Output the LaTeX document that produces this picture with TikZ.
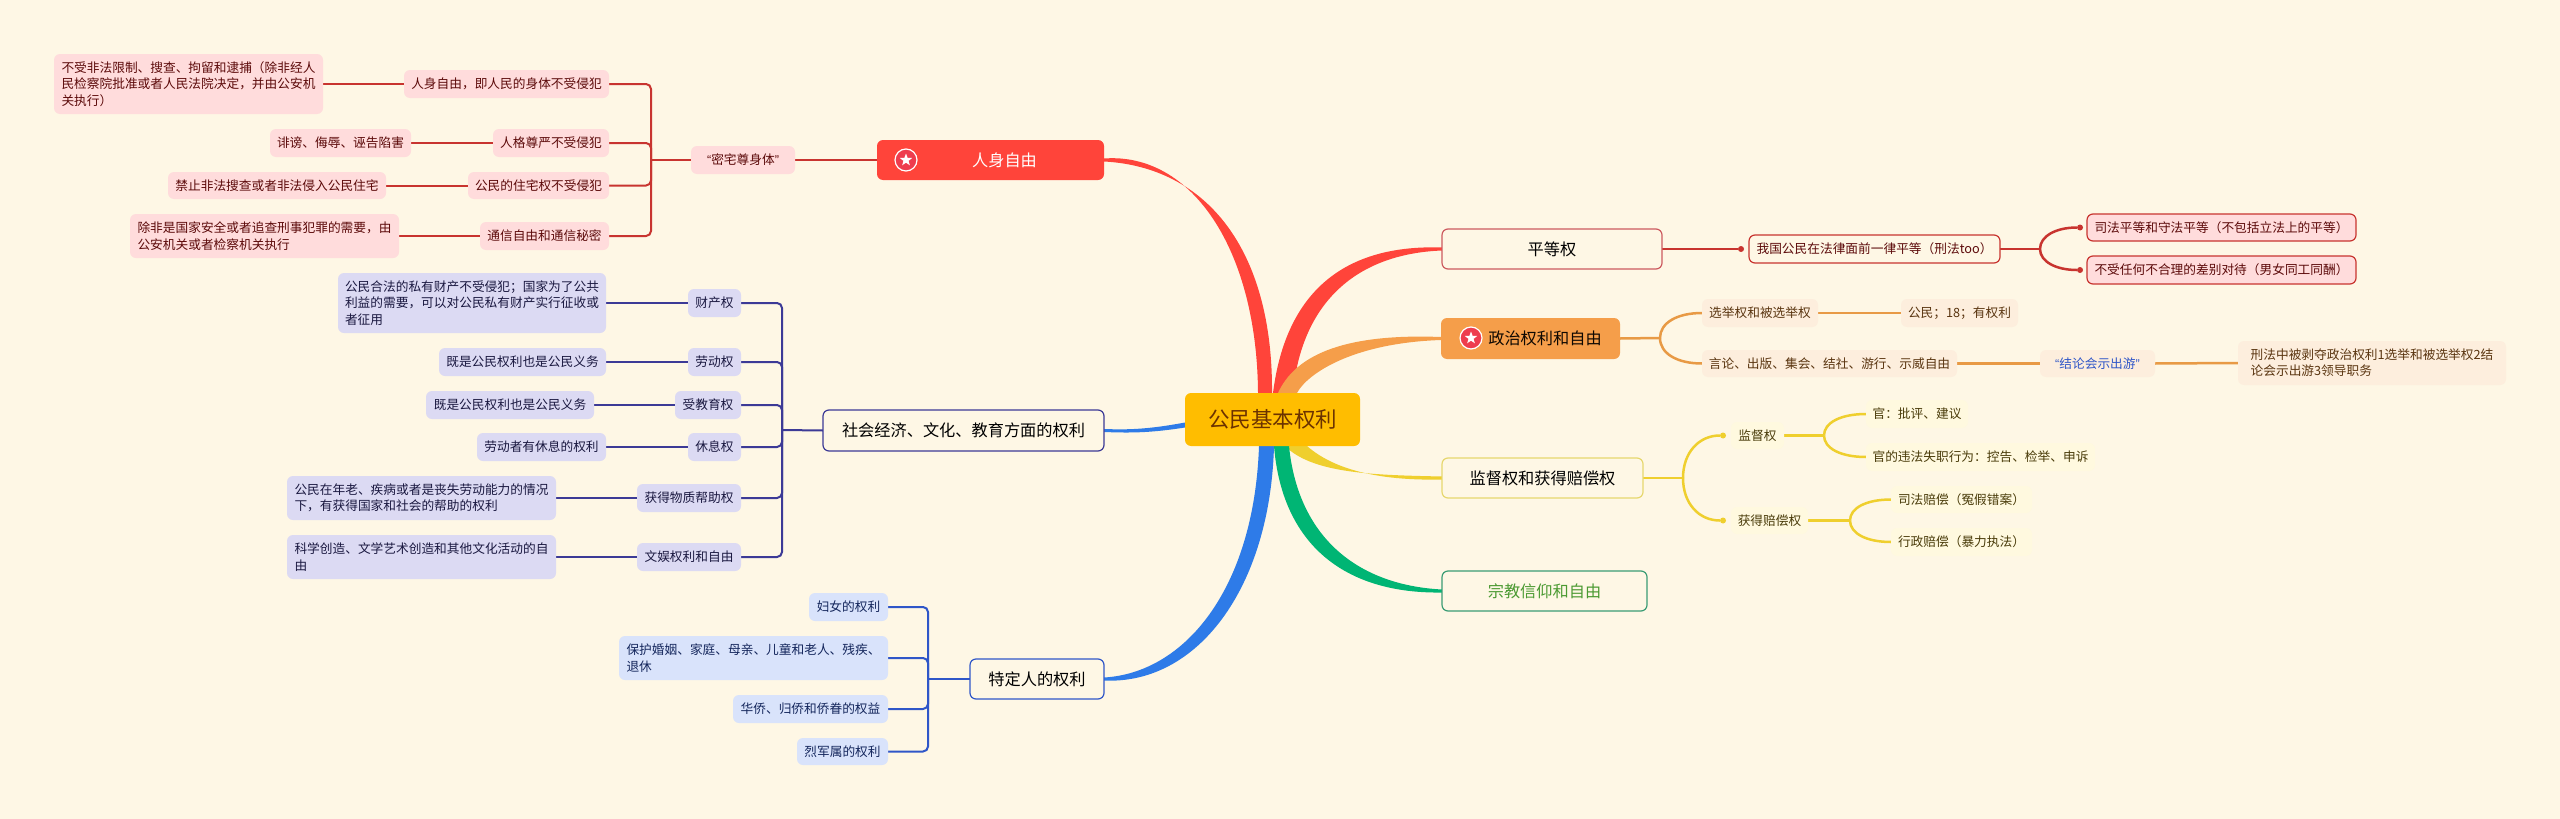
\documentclass[tikz,border=0pt]{standalone}
\usepackage{fontspec}
\setmainfont{Noto Sans CJK SC}
\newfontfamily\latq{Liberation Sans}
\usetikzlibrary{shapes.geometric,calc}
\definecolor{bgc}{HTML}{FEF7E5}
\definecolor{rootc}{HTML}{FFBD00}
\definecolor{roott}{HTML}{6B3200}
\definecolor{redm}{HTML}{FF443A}
\definecolor{redl}{HTML}{C8342F}
\definecolor{redf}{HTML}{FFDCDC}
\definecolor{redt}{HTML}{5C0A0A}
\definecolor{redb}{HTML}{CC5A5F}
\definecolor{purl}{HTML}{3C3A96}
\definecolor{purf}{HTML}{DCDAF3}
\definecolor{purt}{HTML}{1A1840}
\definecolor{blum}{HTML}{2E7BE8}
\definecolor{blul}{HTML}{2F56C8}
\definecolor{bluf}{HTML}{D9E3FB}
\definecolor{blut}{HTML}{14265C}
\definecolor{orgm}{HTML}{F59E4A}
\definecolor{orgl}{HTML}{E89A45}
\definecolor{orgf}{HTML}{FDEEDD}
\definecolor{orgt}{HTML}{5A3510}
\definecolor{yelm}{HTML}{EFCF2E}
\definecolor{yelb}{HTML}{E6D76E}
\definecolor{yelf}{HTML}{FFF9DF}
\definecolor{yelt}{HTML}{4A3C0A}
\definecolor{grnm}{HTML}{00B574}
\definecolor{grnb}{HTML}{3A9C74}
\definecolor{grnt}{HTML}{4B9A32}
\definecolor{starc}{HTML}{EE3D4E}
\pgfdeclarelayer{under}
\pgfsetlayers{under,main}
\tikzset{
  box/.style={shape=rectangle,rounded corners=6pt,inner sep=0pt,outer sep=0pt,align=left,font=\fontsize{12.7}{16.3}\selectfont},
  mainbox/.style={box,font=\fontsize{16.2}{20}\selectfont,align=center},
  rootbox/.style={box,fill=rootc,text=roott,align=center,font=\fontsize{21.5}{26}\selectfont},
  redn/.style={box,fill=redf,text=redt},
  purn/.style={box,fill=purf,text=purt},
  blun/.style={box,fill=bluf,text=blut},
  orgn/.style={box,fill=orgf,text=orgt},
  yeln/.style={box,fill=yelf,text=yelt},
  redline/.style={draw=redl,line width=2pt},
  purline/.style={draw=purl,line width=2pt},
  bluline/.style={draw=blul,line width=2pt},
  orgline/.style={draw=orgl,line width=2.5pt},
  yelline/.style={draw=yelm,line width=2.5pt},
  redrline/.style={draw=redl,line width=2.5pt},
  corner/.style={rounded corners=5pt},
  tipdot/.style={circle,inner sep=0pt,minimum size=6pt},
  staricon/.style={circle,fill=starc,draw=white,line width=1.2pt,minimum size=22pt,inner sep=0pt},
  starmark/.style={star,star points=5,star point ratio=2.4,fill=white,minimum size=13pt,inner sep=0pt}
}
\newcommand{\nd}[7][]{\node[#1,minimum width={(#5-#3)*1pt},minimum height={(#6-#4)*1pt}] (#2) at ({(#3+#5)/2},{(#4+#6)/2}) {#7};}
\newcommand{\qq}[1]{{\latq “}#1{\latq ”}}
\newcommand{\forkto}[3]{\draw[#1] (#2) .. controls ($(#2)!0.6!(#2 |- #3)$) and ($(#3)!0.6!(#2 |- #3)$) .. (#3);}
\begin{document}
\begin{tikzpicture}[x=1pt,y=-1pt]
\useasboundingbox (0,0) rectangle (2560,819);
% root and main branches
\nd[rootbox]{root}{1185}{393}{1360}{446}{公民基本权利}
\nd[box,fill=redm,text=white,mainbox]{mz}{877}{140}{1104}{180}{\hspace*{28pt}人身自由}
\nd[mainbox,fill=bgc,draw=purl,line width=1.2pt]{ms}{823}{410}{1104}{451}{社会经济、文化、教育方面的权利}
\nd[mainbox,fill=bgc,draw=blul,line width=1.2pt]{mt}{970}{659}{1104}{699}{特定人的权利}
\nd[mainbox,fill=bgc,draw=redb,line width=1.2pt]{mp}{1442}{229}{1662}{269}{平等权}
\nd[mainbox,fill=orgm,text=black!85!orgt]{mo}{1441}{318}{1620}{359}{\hspace*{29pt}政治权利和自由}
\nd[mainbox,fill=bgc,draw=yelb,line width=1.2pt]{mj}{1442}{458}{1643}{498}{监督权和获得赔偿权}
\nd[mainbox,fill=bgc,draw=grnb,line width=1.2pt,text=grnt]{mg}{1442}{571}{1647}{611}{宗教信仰和自由}
\node[staricon] (st1) at (906,160) {};
\node[starmark] (st1m) at (906,160) {};
\node[staricon] (st2) at (1471,338) {};
\node[starmark] (st2m) at (1471,338) {};
% red left
\nd[redn]{a1}{54}{54}{323}{114}{不受非法限制、搜查、拘留和逮捕（除非经人\\民检察院批准或者人民法院决定，并由公安机\\关执行）}
\nd[redn]{a1p}{404}{70}{609}{98}{人身自由，即人民的身体不受侵犯}
\nd[redn]{a2}{270}{129}{411}{157}{诽谤、侮辱、诬告陷害}
\nd[redn]{a2p}{493}{129}{609}{157}{人格尊严不受侵犯}
\nd[redn]{a3}{168}{172}{386}{199}{禁止非法搜查或者非法侵入公民住宅}
\nd[redn]{a3p}{468}{172}{609}{199}{公民的住宅权不受侵犯}
\nd[redn]{a4}{130}{214}{399}{258}{除非是国家安全或者追查刑事犯罪的需要，由\\公安机关或者检察机关执行}
\nd[redn]{a4p}{480}{222}{609}{250}{通信自由和通信秘密}
\nd[redn,align=center]{az}{691}{146}{795}{174}{\qq{密宅尊身体}}
\coordinate (abr) at (651,160);
% purple
\nd[purn]{b1}{338}{273}{606}{333}{公民合法的私有财产不受侵犯；国家为了公共\\利益的需要，可以对公民私有财产实行征收或\\者征用}
\nd[purn]{b1p}{688}{289}{741}{317}{财产权}
\nd[purn]{b2}{439}{348}{606}{376}{既是公民权利也是公民义务}
\nd[purn]{b2p}{688}{348}{741}{376}{劳动权}
\nd[purn]{b3}{426}{391}{594}{419}{既是公民权利也是公民义务}
\nd[purn]{b3p}{675}{391}{741}{419}{受教育权}
\nd[purn]{b4}{477}{433}{606}{461}{劳动者有休息的权利}
\nd[purn]{b4p}{688}{433}{741}{461}{休息权}
\nd[purn]{b5}{287}{476}{556}{520}{公民在年老、疾病或者是丧失劳动能力的情况\\下，有获得国家和社会的帮助的权利}
\nd[purn]{b5p}{637}{484}{741}{512}{获得物质帮助权}
\nd[purn]{b6}{287}{535}{556}{579}{科学创造、文学艺术创造和其他文化活动的自\\由}
\nd[purn]{b6p}{637}{543}{741}{571}{文娱权利和自由}
\coordinate (bbr) at (782,430);
% blue
\nd[blun]{c1}{809}{593}{888}{621}{妇女的权利}
\nd[blun]{c2}{619}{636}{888}{680}{保护婚姻、家庭、母亲、儿童和老人、残疾、\\退休}
\nd[blun]{c3}{733}{695}{888}{723}{华侨、归侨和侨眷的权益}
\nd[blun]{c4}{797}{738}{888}{765}{烈军属的权利}
\coordinate (cbr) at (928,679);
% equality
\nd[box,fill=bgc,draw=redl,line width=1.2pt,text=redt,align=center]{p1}{1749}{235}{2000}{263}{我国公民在法律面前一律平等（刑法too）}
\nd[redn,draw=redl,line width=1.2pt,align=center]{p2}{2087}{214}{2356}{241}{司法平等和守法平等（不包括立法上的平等）}
\nd[redn,draw=redl,line width=1.2pt,align=center]{p3}{2087}{256}{2356}{284}{不受任何不合理的差别对待（男女同工同酬）}
\coordinate (pj) at (2040,249);
\node[tipdot,fill=redl] (p1d) at ([xshift=-8pt]p1.west) {};
\node[tipdot,fill=redl] (p2d) at ([xshift=-7pt]p2.west) {};
\node[tipdot,fill=redl] (p3d) at ([xshift=-7pt]p3.west) {};
% political
\nd[orgn,align=center]{q1}{1702}{299}{1818}{327}{选举权和被选举权}
\nd[orgn,align=center]{q1c}{1901}{299}{2018}{327}{公民；18；有权利}
\nd[orgn,align=center]{q2}{1702}{350}{1957}{377}{言论、出版、集会、结社、游行、示威自由}
\nd[orgn,align=center,text=blul]{q3}{2040}{350}{2155}{377}{\qq{结论会示出游}}
\nd[orgn]{q4}{2238}{341}{2506}{385}{刑法中被剥夺政治权利1选举和被选举权2结\\论会示出游3领导职务}
\coordinate (qj) at (1660,338);
% supervision
\nd[yeln,align=center]{r1}{1731}{422}{1784}{449}{监督权}
\nd[yeln,align=center]{r2}{1731}{507}{1808}{534}{获得赔偿权}
\nd[yeln,align=center]{r1a}{1866}{400}{1968}{428}{官：批评、建议}
\nd[yeln,align=center]{r1b}{1866}{443}{2095}{471}{官的违法失职行为：控告、检举、申诉}
\nd[yeln,align=center]{r2a}{1891}{486}{2032}{513}{司法赔偿（冤假错案）}
\nd[yeln,align=center]{r2b}{1891}{528}{2032}{556}{行政赔偿（暴力执法）}
\coordinate (rj) at (1683,478);
\coordinate (r1j) at (1824,435.5);
\coordinate (r2j) at (1850,520.5);
\node[tipdot,fill=yelm] (r1d) at ([xshift=-8pt]r1.west) {};
\node[tipdot,fill=yelm] (r2d) at ([xshift=-8pt]r2.west) {};
\begin{pgfonlayer}{under}
\fill[bgc] (0,0) rectangle (2560,819);
% tapered main branches
\fill[redm] ([xshift=73pt]root.north west) .. controls (1257,250) and (1192,152) .. ([yshift=1.5pt]mz.east) -- ([yshift=-1.5pt]mz.east) .. controls (1207,167) and (1273,250) .. ([xshift=87pt]root.north west) -- cycle;
\fill[redm] ([xshift=88pt]root.north west) .. controls (1285,298) and (1338,244) .. ([yshift=1.5pt]mp.west) -- ([yshift=-1.5pt]mp.west) .. controls (1352,254) and (1301,307) .. ([xshift=108pt]root.north west) -- cycle;
\fill[orgm] ([xshift=93pt]root.north west) .. controls (1294,358) and (1338,333) .. ([yshift=1.5pt]mo.west) -- ([yshift=-1.5pt]mo.west) .. controls (1352,343) and (1307,374) .. ([xshift=112pt]root.north west) -- cycle;
\fill[yelm] ([xshift=100pt]root.south west) .. controls (1313,474) and (1375,475) .. ([yshift=1.5pt]mj.west) -- ([yshift=-1.5pt]mj.west) .. controls (1375,481) and (1332,468) .. ([xshift=122pt]root.south west) -- cycle;
\fill[grnm] ([xshift=89pt]root.south west) .. controls (1282,544) and (1344,594) .. ([yshift=-1.5pt]mg.west) -- ([yshift=1.5pt]mg.west) .. controls (1356,585) and (1298,536) .. ([xshift=104pt]root.south west) -- cycle;
\fill[blum] ([xshift=74pt]root.south west) .. controls (1254,590) and (1184,673) .. ([yshift=1.5pt]mt.east) -- ([yshift=-1.5pt]mt.east) .. controls (1196,685) and (1270,590) .. ([xshift=89pt]root.south west) -- cycle;
\fill[blum] ([yshift=-3pt]root.west) .. controls (1150,429) and (1130,430) .. ([yshift=1.5pt]ms.east) -- ([yshift=-1.5pt]ms.east) .. controls (1130,433) and (1150,433) .. ([yshift=-8pt]root.west) -- cycle;
% red level
\draw[redline,corner] (a1p.east) -| (abr);
\draw[redline,corner] (a2p.east) -| (abr);
\draw[redline,corner] (a3p.east) -| (abr);
\draw[redline,corner] (a4p.east) -| (abr);
\draw[redline] (abr) -- (az.west);
\draw[redline] (az.east) -- (mz.west);
\draw[redline] (a1.east) -- (a1p.west);
\draw[redline] (a2.east) -- (a2p.west);
\draw[redline] (a3.east) -- (a3p.west);
\draw[redline] (a4.east) -- (a4p.west);
% purple level
\draw[purline,corner] (b1p.east) -| (bbr);
\draw[purline,corner] (b2p.east) -| (bbr);
\draw[purline,corner] (b3p.east) -| (bbr);
\draw[purline,corner] (b4p.east) -| (bbr);
\draw[purline,corner] (b5p.east) -| (bbr);
\draw[purline,corner] (b6p.east) -| (bbr);
\draw[purline] (bbr) -- (ms.west);
\draw[purline] (b1.east) -- (b1p.west);
\draw[purline] (b2.east) -- (b2p.west);
\draw[purline] (b3.east) -- (b3p.west);
\draw[purline] (b4.east) -- (b4p.west);
\draw[purline] (b5.east) -- (b5p.west);
\draw[purline] (b6.east) -- (b6p.west);
% blue level
\draw[bluline,corner] (c1.east) -| (cbr);
\draw[bluline,corner] (c2.east) -| (cbr);
\draw[bluline,corner] (c3.east) -| (cbr);
\draw[bluline,corner] (c4.east) -| (cbr);
\draw[bluline] (cbr) -- (mt.west);
% equality level
\draw[redrline] (mp.east) -- (p1d);
\draw[redrline] (p1.east) -- (pj);
\forkto{redrline}{pj}{p2d}
\forkto{redrline}{pj}{p3d}
% political level
\draw[orgline] (mo.east) -- (qj);
\forkto{orgline}{qj}{q1.west}
\forkto{orgline}{qj}{q2.west}
\draw[orgline] (q1.east) -- (q1c.west);
\draw[orgline] (q2.east) -- (q3.west);
\draw[orgline] (q3.east) -- (q4.west);
% supervision level
\draw[yelline] (mj.east) -- (rj);
\forkto{yelline}{rj}{r1d}
\forkto{yelline}{rj}{r2d}
\draw[yelline] (r1.east) -- (r1j);
\forkto{yelline}{r1j}{r1a.west}
\forkto{yelline}{r1j}{r1b.west}
\draw[yelline] (r2.east) -- (r2j);
\forkto{yelline}{r2j}{r2a.west}
\forkto{yelline}{r2j}{r2b.west}
\end{pgfonlayer}
\end{tikzpicture}
\end{document}
